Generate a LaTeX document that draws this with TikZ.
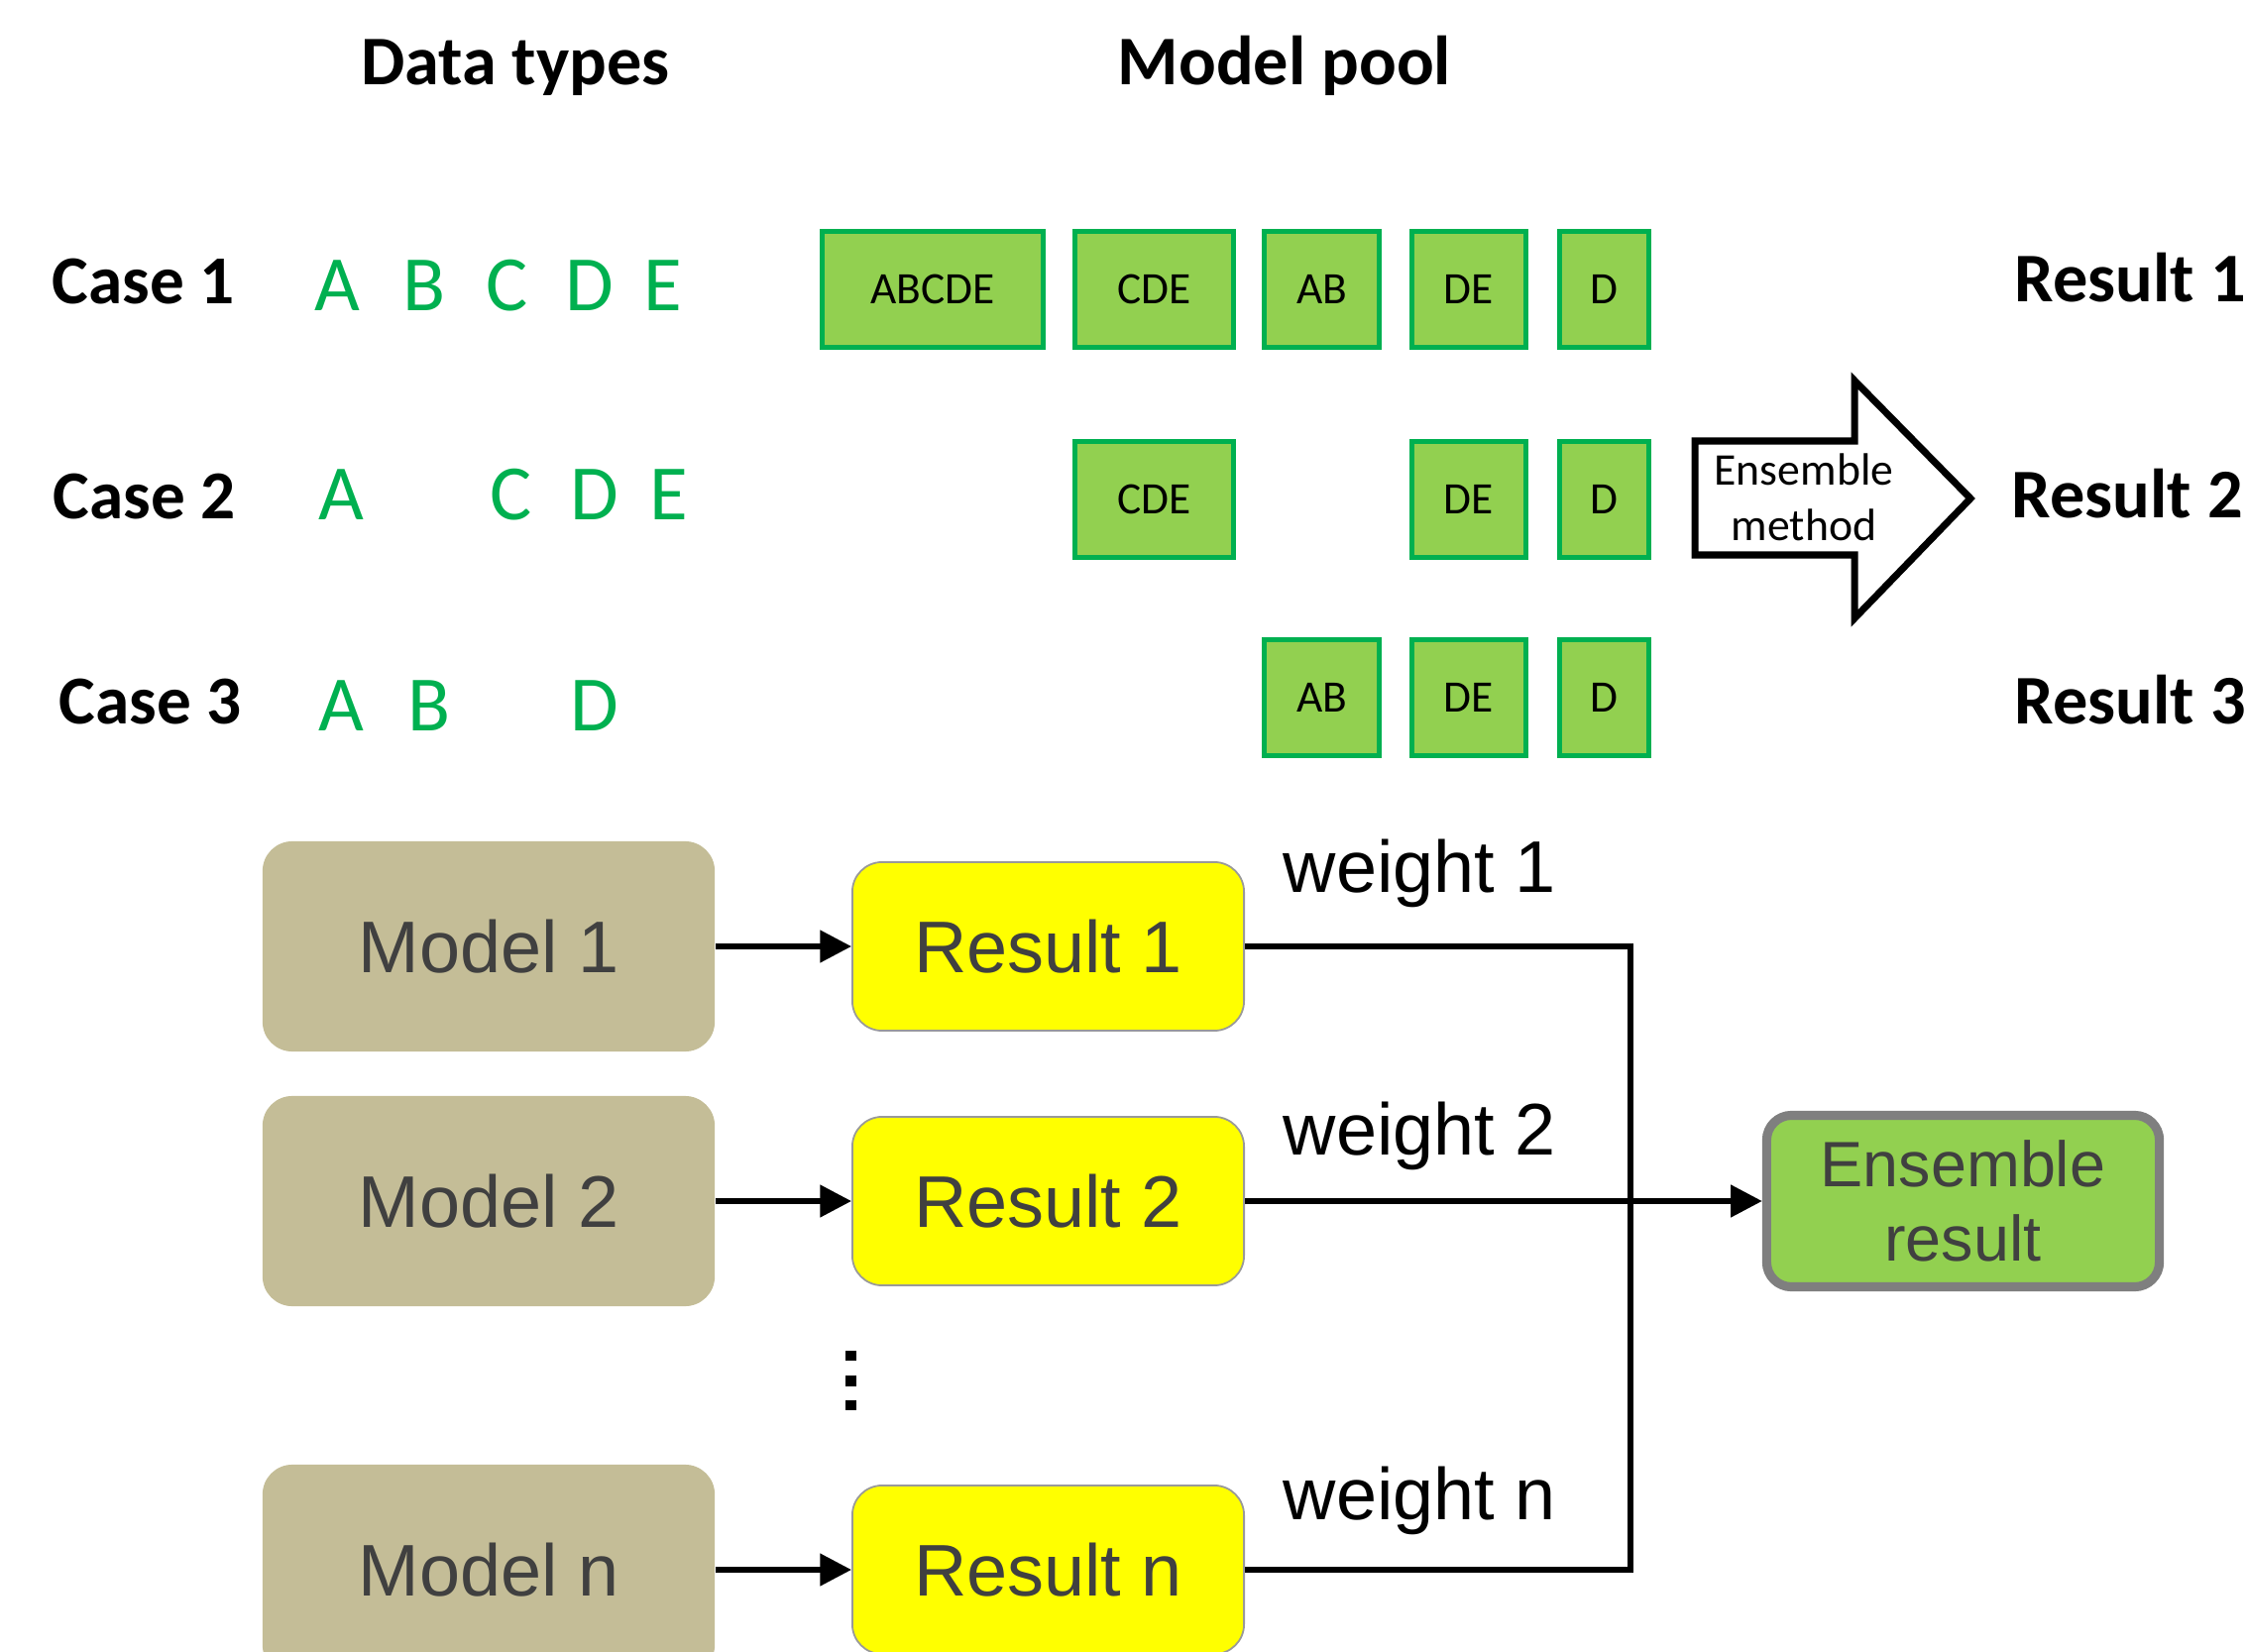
\documentclass[tikz,border=0pt]{standalone}
\usepackage{fontspec}
\usetikzlibrary{arrows.meta}
\newfontfamily\carl{Carlito}
\newfontfamily\ars{Liberation Sans}
\definecolor{gfill}{HTML}{92D050}
\definecolor{gborder}{HTML}{00B050}
\definecolor{gtext}{HTML}{00B050}
\definecolor{tanc}{HTML}{C4BD97}
\definecolor{dgray}{HTML}{404040}
\definecolor{ensborder}{HTML}{7F7F7F}
\definecolor{yel}{RGB}{255,255,0}
\begin{document}
\begin{tikzpicture}[x=0.01cm,y=-0.01cm,
  hdr/.style={font=\carl\bfseries\fontsize{20}{24}\selectfont, inner sep=0pt, anchor=base},
  caselbl/.style={font=\carl\bfseries\fontsize{19.7}{24}\selectfont, inner sep=0pt, anchor=base},
  letter/.style={font=\carl\fontsize{22.5}{27}\selectfont, text=gtext, inner sep=0pt, anchor=base},
  gbox/.style={draw=gborder, fill=gfill, line width=1.3pt, minimum height=1.17cm, inner sep=0pt,
    font=\carl\fontsize{12.9}{15}\selectfont},
  reslbl/.style={font=\carl\bfseries\fontsize{20}{24}\selectfont, inner sep=0pt, anchor=base west},
  modelbox/.style={fill=tanc, rounded corners=0.3cm, minimum width=4.56cm, minimum height=2.12cm,
    inner sep=0pt, font=\ars\fontsize{21}{25}\selectfont, text=dgray},
  resbox/.style={fill=yel, draw=gray!80, line width=0.5pt, rounded corners=0.3cm,
    minimum width=3.95cm, minimum height=1.70cm, inner sep=0pt,
    font=\ars\fontsize{21}{25}\selectfont, text=dgray},
  wlbl/.style={font=\ars\fontsize{21}{25}\selectfont, inner sep=0pt, anchor=base west},
  ensbox/.style={fill=gfill, draw=ensborder, line width=2.6pt, rounded corners=0.25cm,
    minimum width=3.96cm, minimum height=1.73cm, inner sep=0pt, align=center,
    font=\ars\fontsize{18.4}{21.3}\selectfont, text=dgray},
  conn/.style={line width=1.6pt, black},
  arr/.style={conn, -{Triangle[length=9pt,width=9pt]}}
]
\useasboundingbox (0,0) rectangle (2266,1667);
\clip (0,0) rectangle (2266,1667);

% headers
\node[hdr] (dt) at (520,86) {Data types};
\node[hdr] (mp) at (1296,86) {Model pool};

% case labels
\node[caselbl] (c1) at (145,307) {Case 1};
\node[caselbl] (c2) at (146,524) {Case 2};
\node[caselbl] (c3) at (152,731) {Case 3};

% data-type letters
\node[letter] (c1a) at (340,314) {A};
\node[letter] (c1b) at (428,314) {B};
\node[letter] (c1c) at (512,314) {C};
\node[letter] (c1d) at (595,314) {D};
\node[letter] (c1e) at (669,314) {E};
\node[letter] (c2a) at (344,525) {A};
\node[letter] (c2c) at (516,525) {C};
\node[letter] (c2d) at (600,525) {D};
\node[letter] (c2e) at (675,525) {E};
\node[letter] (c3a) at (344,737) {A};
\node[letter] (c3b) at (433,737) {B};
\node[letter] (c3d) at (600,737) {D};

% model pool
\node[gbox, minimum width=2.23cm] (p1abcde) at (941,292) {ABCDE};
\node[gbox, minimum width=1.60cm] (p1cde) at (1164.5,292) {CDE};
\node[gbox, minimum width=1.16cm] (p1ab) at (1333.5,292) {AB};
\node[gbox, minimum width=1.15cm] (p1de) at (1482,292) {DE};
\node[gbox, minimum width=0.90cm] (p1d) at (1618.5,292) {D};
\node[gbox, minimum width=1.60cm] (p2cde) at (1164.5,504) {CDE};
\node[gbox, minimum width=1.15cm] (p2de) at (1482,504) {DE};
\node[gbox, minimum width=0.90cm] (p2d) at (1618.5,504) {D};
\node[gbox, minimum width=1.16cm] (p3ab) at (1333.5,704) {AB};
\node[gbox, minimum width=1.15cm] (p3de) at (1482,704) {DE};
\node[gbox, minimum width=0.90cm] (p3d) at (1618.5,704) {D};

% ensemble method arrow
\draw[line width=2pt, fill=white] (1710,445) -- (1871,445) -- (1871,384) -- (1988,503)
  -- (1871,624) -- (1871,560) -- (1710,560) -- cycle;
\node[align=center, inner sep=0pt, font=\carl\fontsize{13}{15.8}\selectfont] (em) at (1820,502) {Ensemble\\method};

% results
\node[reslbl] (res1) at (2032,305) {Result 1};
\node[reslbl] (res2) at (2029,523) {Result 2};
\node[reslbl] (res3) at (2032,730) {Result 3};

% bottom workflow
\node[modelbox] (m1) at (493,955) {Model 1};
\node[modelbox] (m2) at (493,1212) {Model 2};
\node[modelbox] (mn) at (493,1584) {Model n};
\node[resbox] (r1) at (1057.5,955) {Result 1};
\node[resbox] (r2) at (1057.5,1212) {Result 2};
\node[resbox] (rn) at (1057.5,1584) {Result n};
\node[ensbox] (ens) at (1980.5,1212) {Ensemble\\result};

\coordinate (bus) at (1645,1212);

\draw[arr] (m1.east) -- (r1.west);
\draw[arr] (m2.east) -- (r2.west);
\draw[arr] (mn.east) -- (rn.west);
\draw[conn] (r1.east) -| (bus) |- (rn.east);
\draw[arr] (r2.east) -- (ens.west);

\node[wlbl] (w1) at (1294,900) {weight 1};
\node[wlbl] (w2) at (1294,1165) {weight 2};
\node[wlbl] (wn) at (1294,1533) {weight n};

% vertical dots
\fill (853,1363) rectangle (864,1373);
\fill (853,1388) rectangle (864,1399);
\fill (853,1413) rectangle (864,1423);
\end{tikzpicture}
\end{document}
